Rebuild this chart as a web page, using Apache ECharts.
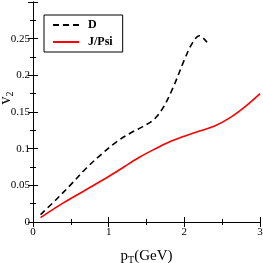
<!DOCTYPE html>
<html><head><meta charset="utf-8">
<script src="https://cdn.jsdelivr.net/npm/echarts@6/dist/echarts.min.js"></script>
<style>html,body{margin:0;padding:0;background:#fff}#c{width:263px;height:263px}</style>
</head><body><div id="c"></div>
<script>
const seriesNames = ['D', 'J/Psi'];
const dX = [0.1, 0.3, 0.5, 0.7, 0.9, 1.1, 1.3, 1.45, 1.6, 1.72, 1.85, 2.0, 2.1, 2.2, 2.3];
const dY = [0.010, 0.030, 0.051, 0.073, 0.092, 0.109, 0.122, 0.130, 0.140, 0.156, 0.183, 0.221, 0.243, 0.254, 0.245];
const jX = [0.1, 0.4, 0.7, 1.0, 1.2, 1.4, 1.6, 1.8, 2.0, 2.2, 2.4, 2.6, 2.8, 3.0];
const jY = [0.006, 0.026, 0.044, 0.062, 0.075, 0.088, 0.099, 0.109, 0.117, 0.124, 0.131, 0.142, 0.157, 0.175];
const xTicks = [0, 1, 2, 3];
const yTicks = [0, 0.05, 0.1, 0.15, 0.2, 0.25];

const font = 'Liberation Serif';
const axisCommon = {
  axisLine: {lineStyle: {color: '#000', width: 1}},
  axisTick: {inside: true, length: 5, lineStyle: {color: '#000'}},
  minorTick: {show: true, splitNumber: 2, length: 3, lineStyle: {color: '#000'}},
  splitLine: {show: false}
};
const chart = echarts.init(document.getElementById('c'));
chart.setOption({
  animation: false,
  grid: {left: 33, right: 3, top: 2, bottom: 41, containLabel: false, outerBoundsMode: 'none'},
  legend: {
    orient: 'vertical', left: 44, top: 15,
    borderColor: '#000', borderWidth: 1, padding: [4, 10, 4, 8],
    itemWidth: 26, itemHeight: 8, itemGap: 5,
    itemStyle: {opacity: 0},
    textStyle: {fontFamily: font, fontSize: 12, fontWeight: 'bold', color: '#000', padding: [0, 0, 0, 4]},
    data: seriesNames
  },
  xAxis: [
    Object.assign({type: 'value', min: 0, max: 3, interval: 1, position: 'bottom',
      name: '{p|p}{s|T}{p|(GeV)}', nameLocation: 'middle', nameGap: 25,
      nameTextStyle: {rich: {p: {fontFamily: font, fontSize: 15, color: '#000'}, s: {fontFamily: font, fontSize: 10, color: '#000', verticalAlign: 'bottom', padding: [8, 0, 0, 0]}}},
      axisLabel: {fontFamily: font, fontSize: 11, color: '#000', margin: 5,
        formatter: v => xTicks.includes(v) ? String(v) : ''}}, axisCommon),
    Object.assign({type: 'value', min: 0, max: 3, interval: 1, position: 'top', axisLabel: {show: false}}, axisCommon)
  ],
  yAxis: [
    Object.assign({type: 'value', min: 0, max: 0.3, interval: 0.05, position: 'left',
      name: '{p|v}{s|2}', nameLocation: 'middle', nameGap: 18, nameRotate: 90, nameMoveOverlap: false,
      nameTextStyle: {padding: [0, 0, 0, 28], rich: {p: {fontFamily: font, fontSize: 16, color: '#000'}, s: {fontFamily: font, fontSize: 10, color: '#000', verticalAlign: 'bottom', padding: [8, 0, 0, 0]}}},
      axisLabel: {fontFamily: font, fontSize: 11, color: '#000', margin: 3,
        formatter: v => { const t = yTicks.find(a => Math.abs(a - v) < 1e-9); return t === undefined ? '' : String(t); }}}, axisCommon),
    Object.assign({type: 'value', min: 0, max: 0.3, interval: 0.05, position: 'right', axisLabel: {show: false}}, axisCommon)
  ],
  series: [
    {name: seriesNames[0], type: 'line', smooth: 0.35, showSymbol: false, symbol: 'none',
      data: dX.map((x, i) => [x, dY[i]]),
      lineStyle: {color: '#000', width: 1.6, type: [6, 4]}, itemStyle: {color: '#000'}},
    {name: seriesNames[1], type: 'line', smooth: 0.35, showSymbol: false, symbol: 'none',
      data: jX.map((x, i) => [x, jY[i]]),
      lineStyle: {color: '#ff0000', width: 1.6}, itemStyle: {color: '#ff0000'}}
  ]
});
</script></body></html>
